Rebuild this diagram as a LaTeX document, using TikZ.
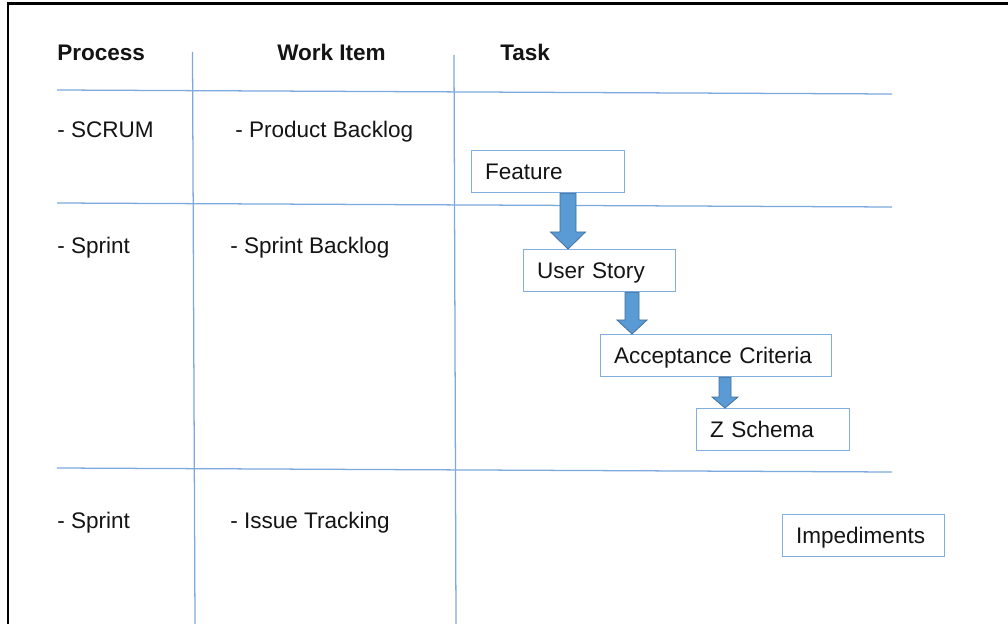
\documentclass[tikz,border=0pt]{standalone}
\usepackage{fontspec}
\setmainfont{Liberation Sans}
\usetikzlibrary{calc}
\definecolor{gridblue}{RGB}{125,170,222}
\definecolor{boxblue}{RGB}{130,175,225}
\definecolor{arrowfill}{RGB}{91,155,213}
\definecolor{arrowedge}{RGB}{65,113,156}
\definecolor{ink}{RGB}{20,20,20}

% block arrow from point #1 down to point #2:
% #3 shaft half width, #4 head half width, #5 head length
\newcommand\blockarrow[5]{%
  \draw[blockarr] let \p1=(#1), \p2=(#2) in
    (\x1-#3,\y1) -- (\x1-#3,\y2+#5) -- (\x1-#4,\y2+#5) -- (\x1,\y2)
    -- (\x1+#4,\y2+#5) -- (\x1+#3,\y2+#5) -- (\x1+#3,\y1) -- cycle;}

\begin{document}
\begin{tikzpicture}[x=0.75pt,y=-0.75pt,
  gridline/.style={draw=gridblue,line width=0.95pt},
  lbl/.style={anchor=base west,inner sep=0pt,text=ink,font=\fontsize{16.9}{20}\selectfont},
  hdr/.style={lbl,font=\fontsize{16.9}{20}\selectfont\bfseries},
  taskbox/.style={draw=boxblue,line width=0.9pt,fill=white,anchor=north west,
    inner xsep=10.125pt,inner ysep=0pt,text height=12pt,text depth=0pt,
    minimum height=31.5pt,text=ink,align=left,text width=#1,
    font=\fontsize{16.9}{20}\selectfont},
  blockarr/.style={fill=arrowfill,draw=arrowedge,line width=0.6pt,line join=miter}]

\useasboundingbox (0,0) rectangle (1008,624);
\fill[white] (0,0) rectangle (1008,624);

% outer frame
\draw[black,line width=1.6pt] (8,624) -- (8,3.5) -- (1008,3.5);

% grid lines
\coordinate (v1a) at (192.5,52);  \coordinate (v1b) at (195,624);
\coordinate (v2a) at (454,55);    \coordinate (v2b) at (456,624);
\coordinate (h1a) at (57,90);     \coordinate (h1b) at (892,94);
\coordinate (h2a) at (57,203);    \coordinate (h2b) at (892,207);
\coordinate (h3a) at (57,468);    \coordinate (h3b) at (892,472);
\draw[gridline] (v1a) -- (v1b);
\draw[gridline] (v2a) -- (v2b);
\draw[gridline] (h1a) -- (h1b);
\draw[gridline] (h2a) -- (h2b);
\draw[gridline] (h3a) -- (h3b);

% headers
\node[hdr] (hproc) at (57,61) {Process};
\node[hdr] (hwork) at (277,61) {Work Item};
\node[hdr] (htask) at (500,61) {Task};

% rows
\node[lbl] (p1) at (57,138) {- SCRUM};
\node[lbl] (w1) at (235,138) {- Product Backlog};
\node[lbl] (p2) at (57,254) {- Sprint};
\node[lbl] (w2) at (230,254) {- Sprint Backlog};
\node[lbl] (p3) at (57,528) {- Sprint};
\node[lbl] (w3) at (230,528) {- Issue Tracking};

% task boxes
\node[taskbox=94.5pt] (feat) at (471,150) {Feature};
\node[taskbox=93.75pt] (story) at (523,249) {User Story};
\node[taskbox=153pt] (accept) at (600,334) {Acceptance Criteria};
\node[taskbox=94.5pt] (zsch) at (696,408) {Z Schema};
\node[taskbox=101.25pt] (imped) at (782,514) {Impediments};

% flow arrows
\coordinate (a1s) at ($(feat.south west)+(97,0)$);
\coordinate (a1e) at (a1s |- story.north);
\coordinate (a2s) at ($(story.south west)+(109,0)$);
\coordinate (a2e) at (a2s |- accept.north);
\coordinate (a3s) at ($(accept.south west)+(125,0)$);
\coordinate (a3e) at (a3s |- zsch.north);
\blockarrow{a1s}{a1e}{6pt}{13.1pt}{12.75pt}
\blockarrow{a2s}{a2e}{5.25pt}{11.25pt}{10.5pt}
\blockarrow{a3s}{a3e}{4.5pt}{9.75pt}{8.25pt}
\end{tikzpicture}
\end{document}
